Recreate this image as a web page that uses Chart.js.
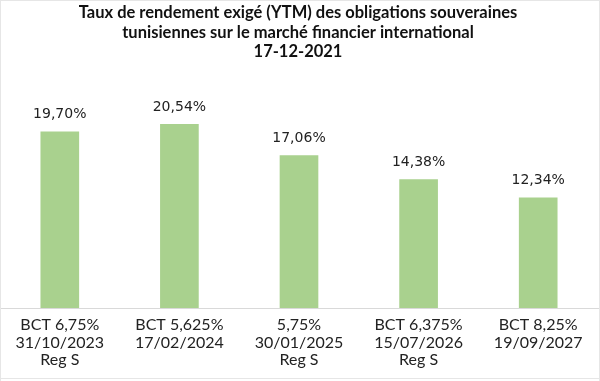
<!DOCTYPE html>
<html><head><meta charset="utf-8">
<script src="https://cdn.jsdelivr.net/npm/chart.js@4"></script>
<style>html,body{margin:0;padding:0;background:#fff}#w{width:600px;height:381px;position:relative}</style>
</head><body><div id="w"><canvas id="c"></canvas></div>
<script>
const categories = [
  ["BCT 6,75%","31/10/2023","Reg S"],
  ["BCT 5,625%","17/02/2024"],
  ["5,75%","30/01/2025","Reg S"],
  ["BCT 6,375%","15/07/2026","Reg S"],
  ["BCT 8,25%","19/09/2027"]
];
const ytmValues = [19.70, 20.54, 17.06, 14.38, 12.34];
const titleLines = ["Taux de rendement exigé (YTM) des obligations souveraines","tunisiennes sur le marché financier international","17-12-2021"];

const fmt = v => v.toFixed(2).replace('.', ',') + '%';

const labelsPlugin = {
  id: 'valLabels',
  afterDatasetsDraw(chart) {
    const ctx = chart.ctx;
    const meta = chart.getDatasetMeta(0);
    ctx.save();
    ctx.font = '14px "DejaVu Sans"';
    ctx.fillStyle = '#222222';
    ctx.textAlign = 'center';
    ctx.textBaseline = 'middle';
    meta.data.forEach((bar, i) => {
      ctx.fillText(fmt(ytmValues[i]), bar.x, bar.y - 17);
    });
    ctx.restore();
  }
};
const framePlugin = {
  id: 'frame',
  afterDraw(chart) {
    const ctx = chart.ctx;
    const y = Math.round(chart.scales.y.getPixelForValue(0));
    ctx.save();
    ctx.fillStyle = '#d9d9d9';
    ctx.fillRect(0, y, chart.width, 1);
    ctx.fillStyle = '#e6e6e6';
    ctx.fillRect(0, 0, chart.width, 1);
    ctx.fillRect(0, chart.height - 3, chart.width, 1);
    ctx.fillRect(0, 0, 1, chart.height);
    ctx.fillRect(chart.width - 1, 0, 1, chart.height);
    ctx.restore();
  }
};

new Chart(document.getElementById('c'), {
  type: 'bar',
  data: {
    labels: categories,
    datasets: [{
      data: ytmValues,
      backgroundColor: '#a9d18e',
      barThickness: 38
    }]
  },
  options: {
    responsive: true,
    maintainAspectRatio: false,
    animation: false,
    layout: { padding: { left: -2, right: 2, top: 0, bottom: 4 } },
    plugins: {
      legend: { display: false },
      tooltip: { enabled: false },
      title: {
        display: true,
        text: titleLines,
        color: '#111111',
        font: { family: 'Lato', size: 16.5, weight: 'bold', lineHeight: 1.18 },
        padding: { top: 3, bottom: 23 }
      }
    },
    scales: {
      x: {
        grid: { display: false, drawOnChartArea: false, drawTicks: false, tickLength: 0, color: 'rgba(0,0,0,0)', tickColor: 'rgba(0,0,0,0)' },
        border: { display: false },
        ticks: { color: '#222222', font: { family: 'Lato', size: 16, lineHeight: 1.1 }, padding: 8, maxRotation: 0, autoSkip: false }
      },
      y: {
        display: false,
        min: 0,
        max: 25
      }
    }
  },
  plugins: [labelsPlugin, framePlugin]
});
</script>
</body></html>
